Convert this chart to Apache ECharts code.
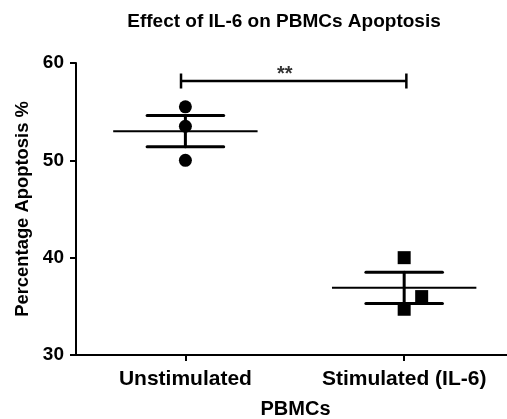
<!DOCTYPE html>
<html>
<head>
<meta charset="utf-8">
<script src="https://cdn.jsdelivr.net/npm/echarts@6/dist/echarts.min.js"></script>
<style>html,body{margin:0;padding:0;background:#fff;}#c{width:507px;height:419px;}</style>
</head>
<body>
<div id="c"></div>
<script>
var categories = ['Unstimulated', 'Stimulated (IL-6)'];
var unstimPoints = [[0, 55.5], [0, 53.5], [0, 50.0]];
var stimPoints = [[0, 40.0], [0.08, 36.0], [0, 34.7]];
var means = [53.0, 36.9];
var sems = [1.6, 1.6];
var bracket = [[-0.02, 1.01, 58.15]];
var yTicks = [30, 40, 50, 60];

var FONT = '"Liberation Sans", Arial, sans-serif';
var chart = echarts.init(document.getElementById('c'));

var summaryData = means.map(function (m, i) { return [i, m, sems[i]]; });

chart.setOption({
  animation: false,
  title: {
    text: 'Effect of IL-6 on PBMCs Apoptosis',
    left: 279, top: 7, textAlign: 'center',
    textStyle: { fontFamily: FONT, fontWeight: 'bold', fontSize: 19, color: '#000' }
  },
  grid: { left: 76, right: 0, top: 63, bottom: 64, outerBoundsMode: 'none', containLabel: false },
  xAxis: {
    type: 'value', min: -0.5, max: 1.47,
    splitLine: { show: false },
    axisLine: { show: true, onZero: false, lineStyle: { color: '#000', width: 2 } },
    axisTick: { show: true, customValues: [0, 1], length: 6, inside: false, lineStyle: { color: '#000', width: 2 } },
    axisLabel: {
      customValues: [0, 1], margin: 14,
      formatter: function (v) { return categories[Math.round(v)]; },
      fontFamily: FONT, fontWeight: 'bold', fontSize: 21, color: '#000'
    },
    name: 'PBMCs', nameLocation: 'middle', nameGap: 44,
    nameTextStyle: { fontFamily: FONT, fontWeight: 'bold', fontSize: 20, color: '#000', padding: [0, 0, 0, 8] }
  },
  yAxis: {
    type: 'value', min: 30, max: 60, interval: 10,
    splitLine: { show: false },
    axisLine: { show: true, onZero: false, lineStyle: { color: '#000', width: 2 } },
    axisTick: { show: true, length: 6, lineStyle: { color: '#000', width: 2 } },
    axisLabel: { margin: 12, fontFamily: FONT, fontWeight: 'bold', fontSize: 19, color: '#000' },
    name: 'Percentage Apoptosis %', nameLocation: 'middle', nameGap: 44, nameRotate: 90,
    nameTextStyle: { fontFamily: FONT, fontWeight: 'bold', fontSize: 18.4, color: '#000' }
  },
  series: [
    {
      type: 'custom',
      data: summaryData,
      z: 3,
      renderItem: function (params, api) {
        var x = api.value(0), m = api.value(1), s = api.value(2);
        var mL = api.coord([x - 0.33, m]), mR = api.coord([x + 0.33, m]);
        var top = api.coord([x, m + s]), bot = api.coord([x, m - s]);
        var cT1 = api.coord([x - 0.175, m + s]), cT2 = api.coord([x + 0.175, m + s]);
        var cB1 = api.coord([x - 0.175, m - s]), cB2 = api.coord([x + 0.175, m - s]);
        var st = { stroke: '#000', lineWidth: 3, lineCap: 'round' };
        return {
          type: 'group',
          children: [
            { type: 'line', shape: { x1: mL[0], y1: mL[1], x2: mR[0], y2: mR[1] }, style: { stroke: '#000', lineWidth: 2 } },
            { type: 'line', shape: { x1: top[0], y1: top[1], x2: bot[0], y2: bot[1] }, style: st },
            { type: 'line', shape: { x1: cT1[0], y1: cT1[1], x2: cT2[0], y2: cT2[1] }, style: st },
            { type: 'line', shape: { x1: cB1[0], y1: cB1[1], x2: cB2[0], y2: cB2[1] }, style: st }
          ]
        };
      }
    },
    {
      type: 'custom',
      data: bracket,
      renderItem: function (params, api) {
        var a = api.coord([api.value(0), api.value(2)]);
        var b = api.coord([api.value(1), api.value(2)]);
        var h = 7.5;
        var st = { stroke: '#000', lineWidth: 2.5 };
        return {
          type: 'group',
          children: [
            { type: 'line', shape: { x1: a[0], y1: a[1], x2: b[0], y2: b[1] }, style: st },
            { type: 'line', shape: { x1: a[0], y1: a[1] - h, x2: a[0], y2: a[1] + h }, style: st },
            { type: 'line', shape: { x1: b[0], y1: b[1] - h, x2: b[0], y2: b[1] + h }, style: st },
            { type: 'text', style: { text: '**', x: (a[0] + b[0]) / 2 - 9, y: a[1] + 3, textAlign: 'center', textVerticalAlign: 'bottom', font: 'bold 20px ' + FONT, fill: '#333' } }
          ]
        };
      }
    },
    {
      type: 'scatter', data: unstimPoints, symbol: 'circle', symbolSize: 13, z: 4,
      itemStyle: { color: '#000', opacity: 1 }
    },
    {
      type: 'scatter', data: stimPoints.map(function (p) { return [1 + p[0], p[1]]; }), symbol: 'rect', symbolSize: 13, z: 4,
      itemStyle: { color: '#000', opacity: 1 }
    }
  ]
});
</script>
</body>
</html>
